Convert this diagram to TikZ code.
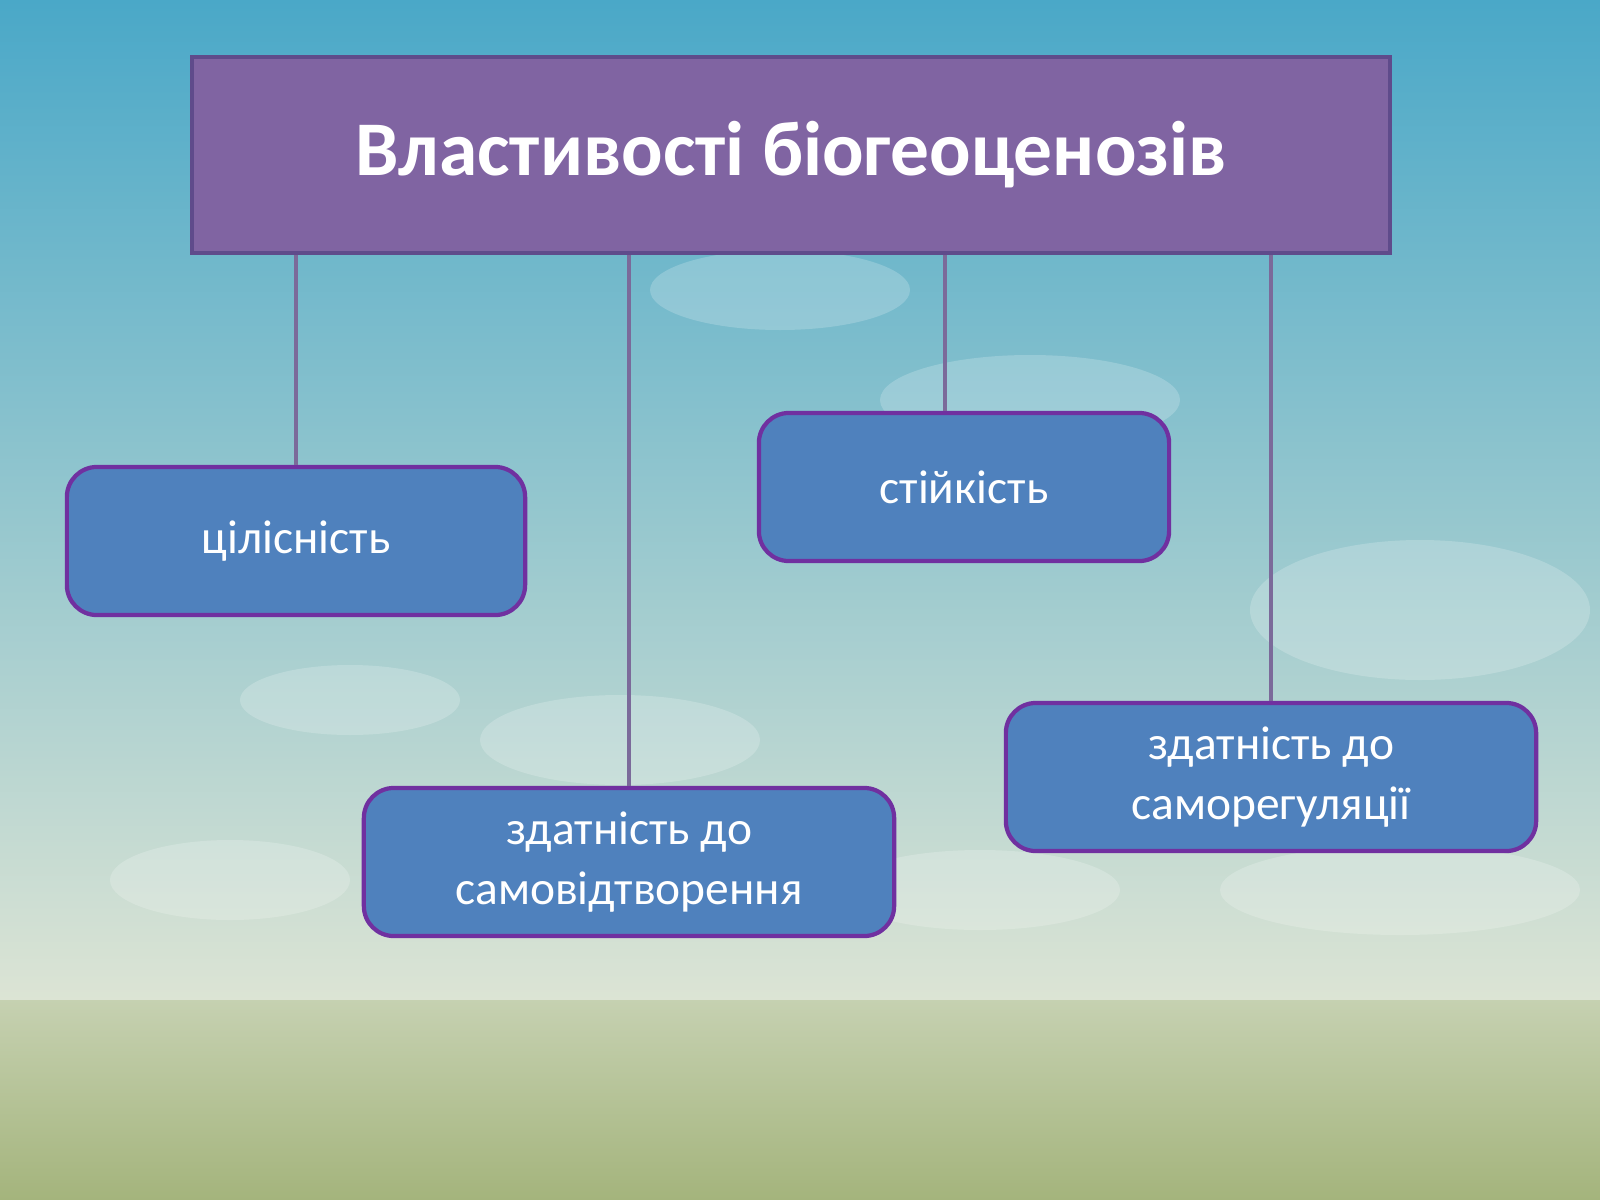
\documentclass[tikz,border=0pt]{standalone}
\usepackage{fontspec}
\setmainfont{Carlito}
\usetikzlibrary{positioning}
\definecolor{skytop}{HTML}{4AA8C8}
\definecolor{skylow}{HTML}{DCE4D4}
\definecolor{grass}{HTML}{A4B47C}
\definecolor{titlefill}{HTML}{8064A2}
\definecolor{titleline}{HTML}{5F4B8B}
\definecolor{boxfill}{HTML}{4F81BD}
\definecolor{boxline}{HTML}{7030A0}
\definecolor{linkcol}{HTML}{7B6A9A}
\tikzset{
  titlebox/.style={draw=titleline,line width=1.2pt,fill=titlefill,
    minimum width=11.98cm,minimum height=1.96cm,text=white,
    font=\bfseries\fontsize{22}{26}\selectfont},
  propbox/.style={draw=boxline,line width=1.2pt,fill=boxfill,rounded corners=0.3cm,
    minimum height=1.48cm,text=white,align=center,
    font=\fontsize{13.5}{17}\selectfont},
  link/.style={draw=linkcol,line width=1pt}
}
\begin{document}
\begin{tikzpicture}[x=0.01cm,y=-0.01cm]
  \useasboundingbox (0,0) rectangle (1600,1200);
  % background
  \shade[top color=skytop,bottom color=skylow] (0,0) rectangle (1600,1000);
  \shade[top color=skylow!60!grass,bottom color=grass] (0,1000) rectangle (1600,1200);
  \foreach \cx/\cy/\rx/\ry in {780/290/130/40, 1030/400/150/45, 1420/610/170/70,
      350/700/110/35, 620/740/140/45, 230/880/120/40, 980/890/140/40, 1400/890/180/45}
    \fill[white,opacity=0.2] (\cx,\cy) ellipse ({\rx*0.01cm} and {\ry*0.01cm});

  \node[titlebox] (title) at (791,155) {Властивості біогеоценозів};

  \node[propbox,minimum width=4.58cm] (whole) at (296,541) {цілісність};
  \node[propbox,minimum width=4.10cm] (stable) at (964,487) {стійкість};
  \node[propbox,minimum width=5.30cm] (repro) at (629,862) {здатність до\\самовідтворення};
  \node[propbox,minimum width=5.30cm] (regul) at (1271,777) {здатність до\\саморегуляції};

  \coordinate (stabletop) at ([xshift=-0.19cm]stable.north);

  \draw[link] (title.south -| whole.north) -- (whole.north);
  \draw[link] (title.south -| repro.north) -- (repro.north);
  \draw[link] (title.south -| stabletop) -- (stabletop);
  \draw[link] (title.south -| regul.north) -- (regul.north);
\end{tikzpicture}
\end{document}
